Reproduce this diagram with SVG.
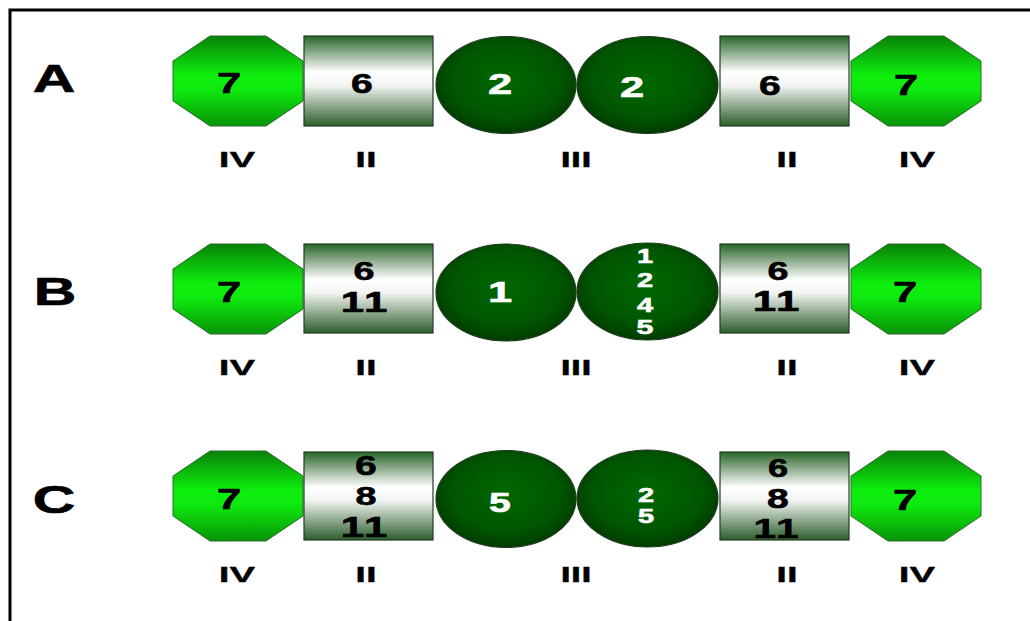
<svg xmlns="http://www.w3.org/2000/svg" xmlns:xlink="http://www.w3.org/1999/xlink" width="1030" height="621" viewBox="0 0 1030 621">
<defs>
<linearGradient id="gOct" x1="0" y1="0" x2="0" y2="1">
<stop offset="0" stop-color="#078207"/>
<stop offset="0.45" stop-color="#0ef00e"/>
<stop offset="0.6" stop-color="#0ee80e"/>
<stop offset="1" stop-color="#089408"/>
</linearGradient>
<linearGradient id="gRect" x1="0" y1="0" x2="0" y2="1">
<stop offset="0" stop-color="#2a642a"/>
<stop offset="0.4" stop-color="#ffffff"/>
<stop offset="0.55" stop-color="#f2f4f2"/>
<stop offset="1" stop-color="#2c5e2c"/>
</linearGradient>
<radialGradient id="gEll" cx="0.5" cy="0.45" r="0.55">
<stop offset="0" stop-color="#006800"/>
<stop offset="0.7" stop-color="#005600"/>
<stop offset="1" stop-color="#003c00"/>
</radialGradient>
<polygon id="oct" points="37,0 93,0 130,25 130,65 93,90 37,90 0,65 0,25"/>
<style>
.oct{fill:url(#gOct);stroke:#2d6a2d;stroke-width:1}
.rc{fill:url(#gRect);stroke:#1f3f1f;stroke-width:1.2}
.el{fill:url(#gEll);stroke:#1e3a1e;stroke-width:1.2}
.t{font-family:"Liberation Sans",Arial,sans-serif;font-weight:bold;text-anchor:middle;stroke:#000;stroke-width:0.6;font-kerning:none;font-variant-ligatures:none}
.d{font-size:30px;fill:#000}
.w{fill:#fff;stroke:#fff}
.lab{font-size:22px;fill:#000;stroke-width:0.3}
.row{font-size:38px;fill:#000}
.border{fill:none;stroke:#000;stroke-width:3}
</style>
</defs>
<rect width="1030" height="621" fill="#fff"/>
<path class="border" d="M1032,10 H10 V621"/>

<g id="rowA">
<text class="t row" transform="translate(54,92) scale(1.55,1)">A</text>
<g id="A-oct1"><use xlink:href="#oct" class="oct" x="173" y="36"/><text class="t d" transform="translate(229,93) scale(1.45,1)">7</text></g>
<g id="A-rect1"><rect class="rc" x="304" y="36" width="129" height="90"/><text class="t d" transform="translate(362,93) scale(1.45,1)" style="font-size:27px">6</text></g>
<g id="A-ell1"><ellipse class="el" cx="506" cy="85" rx="70" ry="48.5"/><text class="t d w" transform="translate(500,94) scale(1.45,1)">2</text></g>
<g id="A-ell2"><ellipse class="el" cx="647.5" cy="85" rx="70.5" ry="48.5"/><text class="t d w" transform="translate(632,97) scale(1.45,1)">2</text></g>
<g id="A-rect2"><rect class="rc" x="720" y="36" width="129" height="90"/><text class="t d" transform="translate(770,95) scale(1.45,1)" style="font-size:27px">6</text></g>
<g id="A-oct2"><use xlink:href="#oct" class="oct" x="851" y="36"/><text class="t d" transform="translate(906,95) scale(1.45,1)">7</text></g>
<g id="A-labels">
<text class="t lab" transform="translate(237,167) scale(1.75,1)">IV</text>
<text class="t lab" transform="translate(366,167) scale(1.75,1)">II</text>
<text class="t lab" transform="translate(576,167) scale(1.7,1)">III</text>
<text class="t lab" transform="translate(787,167) scale(1.75,1)">II</text>
<text class="t lab" transform="translate(917,167) scale(1.75,1)">IV</text>
</g>
</g>

<g id="rowB">
<text class="t row" transform="translate(55,305) scale(1.55,1)">B</text>
<g id="B-oct1"><use xlink:href="#oct" class="oct" x="173" y="244"/><text class="t d" transform="translate(229,302) scale(1.45,1)">7</text></g>
<g id="B-rect1"><rect class="rc" x="304" y="244" width="129" height="89"/>
<text class="t d" transform="translate(364,280) scale(1.45,1)" style="font-size:26px">6</text>
<text class="t d" transform="translate(364,312) scale(1.45,1)" style="font-size:29px">11</text></g>
<g id="B-ell1"><ellipse class="el" cx="506" cy="292.5" rx="70" ry="48.5"/><text class="t d w" transform="translate(500,302) scale(1.45,1)">1</text></g>
<g id="B-ell2"><ellipse class="el" cx="647.5" cy="291.5" rx="70.5" ry="48.5"/>
<text class="t w" transform="translate(645,263) scale(1.45,1)" style="font-size:20px">1</text>
<text class="t w" transform="translate(645,287) scale(1.45,1)" style="font-size:20px">2</text>
<text class="t w" transform="translate(645,312) scale(1.45,1)" style="font-size:20px">4</text>
<text class="t w" transform="translate(645,334) scale(1.45,1)" style="font-size:21px">5</text></g>
<g id="B-rect2"><rect class="rc" x="720" y="244" width="129" height="89"/>
<text class="t d" transform="translate(778,280) scale(1.45,1)" style="font-size:26px">6</text>
<text class="t d" transform="translate(776,311) scale(1.45,1)" style="font-size:29px">11</text></g>
<g id="B-oct2"><use xlink:href="#oct" class="oct" x="851" y="244"/><text class="t d" transform="translate(905,302) scale(1.45,1)">7</text></g>
<g id="B-labels">
<text class="t lab" transform="translate(237,375) scale(1.75,1)">IV</text>
<text class="t lab" transform="translate(366,375) scale(1.75,1)">II</text>
<text class="t lab" transform="translate(576,375) scale(1.7,1)">III</text>
<text class="t lab" transform="translate(787,375) scale(1.75,1)">II</text>
<text class="t lab" transform="translate(917,375) scale(1.75,1)">IV</text>
</g>
</g>

<g id="rowC">
<text class="t row" transform="translate(54,513) scale(1.55,1)">C</text>
<g id="C-oct1"><use xlink:href="#oct" class="oct" x="173" y="451"/><text class="t d" transform="translate(229,509) scale(1.45,1)">7</text></g>
<g id="C-rect1"><rect class="rc" x="304" y="452" width="129" height="88"/>
<text class="t d" transform="translate(366,475) scale(1.45,1)" style="font-size:27px">6</text>
<text class="t d" transform="translate(366,505) scale(1.45,1)" style="font-size:26px">8</text>
<text class="t d" transform="translate(364,537) scale(1.45,1)" style="font-size:29px">11</text></g>
<g id="C-ell1"><ellipse class="el" cx="506" cy="499" rx="70" ry="48.5"/><text class="t d w" transform="translate(500,512) scale(1.45,1)" style="font-size:27px">5</text></g>
<g id="C-ell2"><ellipse class="el" cx="647.5" cy="498.5" rx="70.5" ry="48.5"/>
<text class="t w" transform="translate(646,502) scale(1.45,1)" style="font-size:20px">2</text>
<text class="t w" transform="translate(646,523) scale(1.45,1)" style="font-size:20px">5</text></g>
<g id="C-rect2"><rect class="rc" x="720" y="452" width="129" height="88"/>
<text class="t d" transform="translate(778,477) scale(1.45,1)" style="font-size:25px">6</text>
<text class="t d" transform="translate(778,508) scale(1.45,1)" style="font-size:27px">8</text>
<text class="t d" transform="translate(776,538) scale(1.45,1)" style="font-size:28px">11</text></g>
<g id="C-oct2"><use xlink:href="#oct" class="oct" x="851" y="451"/><text class="t d" transform="translate(905,510) scale(1.45,1)">7</text></g>
<g id="C-labels">
<text class="t lab" transform="translate(237,582) scale(1.75,1)">IV</text>
<text class="t lab" transform="translate(366,582) scale(1.75,1)">II</text>
<text class="t lab" transform="translate(576,582) scale(1.7,1)">III</text>
<text class="t lab" transform="translate(787,582) scale(1.75,1)">II</text>
<text class="t lab" transform="translate(917,582) scale(1.75,1)">IV</text>
</g>
</g>
<g id="connectors"/>
</svg>
